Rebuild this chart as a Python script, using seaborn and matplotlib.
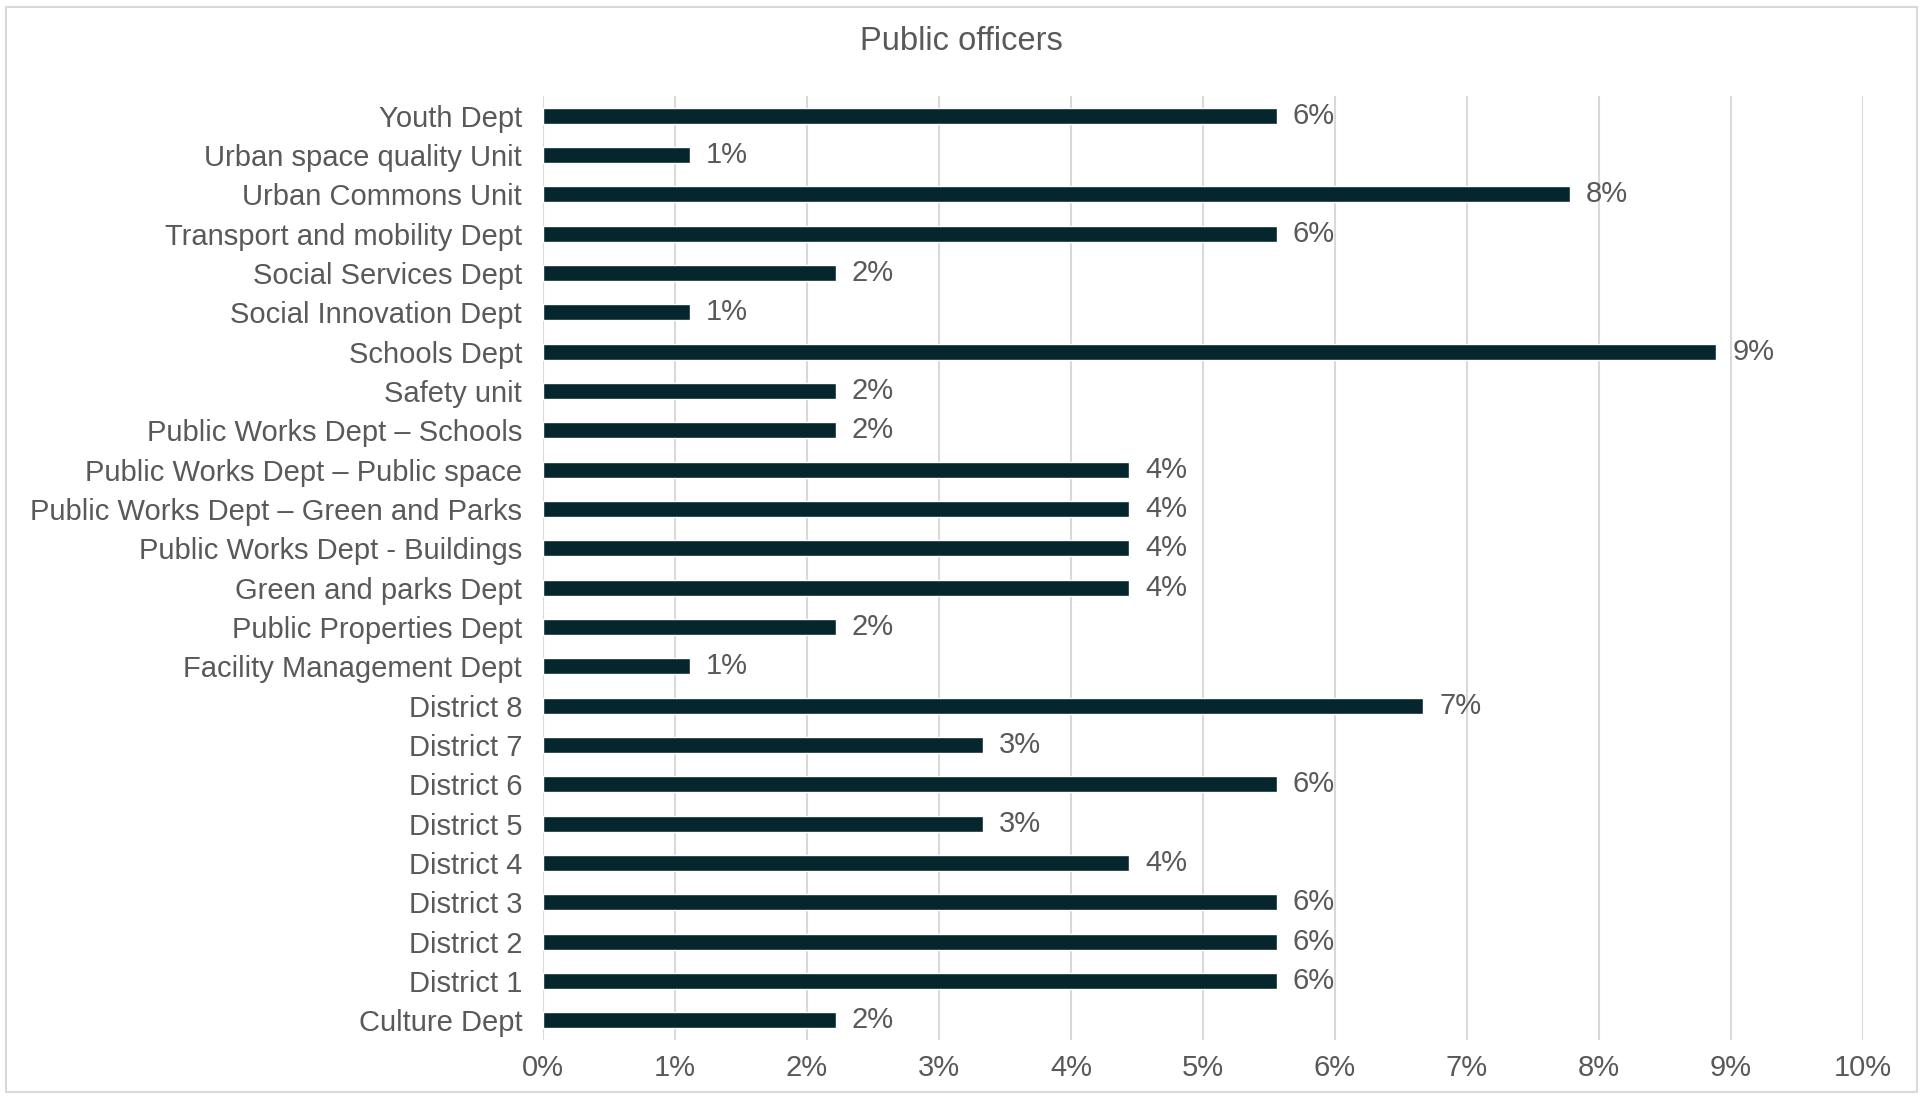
import pandas as pd
import seaborn as sns
import matplotlib.pyplot as plt
from matplotlib.patches import Rectangle
from matplotlib.ticker import FuncFormatter

# departments, top to bottom as in the chart
departments = [
    'Youth Dept', 'Urban space quality Unit', 'Urban Commons Unit',
    'Transport and mobility Dept', 'Social Services Dept', 'Social Innovation Dept',
    'Schools Dept', 'Safety unit', 'Public Works Dept – Schools',
    'Public Works Dept – Public space', 'Public Works Dept – Green and Parks',
    'Public Works Dept - Buildings', 'Green and parks Dept', 'Public Properties Dept',
    'Facility Management Dept', 'District 8', 'District 7', 'District 6',
    'District 5', 'District 4', 'District 3', 'District 2', 'District 1',
    'Culture Dept',
]
# share of public officers (%)
share = [5.56, 1.11, 7.78, 5.56, 2.22, 1.11, 8.89, 2.22, 2.22, 4.44, 4.44, 4.44,
         4.44, 2.22, 1.11, 6.67, 3.33, 5.56, 3.33, 4.44, 5.56, 5.56, 5.56, 2.22]

df = pd.DataFrame({'Dept': departments, 'Share': share})

sns.set_style('white')
plt.rcParams['font.family'] = ['Liberation Sans', 'DejaVu Sans']
text_col = '#595959'

fig = plt.figure(figsize=(19.23, 10.96), dpi=100)
ax = fig.add_axes([0.2824, 0.0511, 0.9688 - 0.2824, 0.9124 - 0.0511])

sns.barplot(data=df, x='Share', y='Dept', color='#06262D', width=0.4,
            saturation=1, ax=ax, zorder=3)

ax.set_xlim(0, 10)
ax.set_xticks(range(0, 11))
ax.xaxis.set_major_formatter(FuncFormatter(lambda v, p: f'{v:.0f}%'))
ax.grid(axis='x', color='#D9D9D9', linewidth=1.5, zorder=0)
ax.grid(axis='y', visible=False)
for s in ax.spines.values():
    s.set_visible(False)
ax.tick_params(axis='both', length=0, labelsize=21, labelcolor=text_col)
ax.tick_params(axis='y', pad=15)
ax.tick_params(axis='x', pad=10)
ax.set_xlabel('')
ax.set_ylabel('')

for i, v in enumerate(share):
    ax.text(v + 0.12, i, f'{v:.0f}%', va='center', ha='left', fontsize=21, color=text_col)

fig.text(0.5, 0.962, 'Public officers', ha='center', va='center', fontsize=23.5, color=text_col)
fig.patches.append(Rectangle((0.003, 0.004), 0.994, 0.99, transform=fig.transFigure,
                             fill=False, edgecolor='#D9D9D9', linewidth=1.5))

fig.savefig('out.png', dpi=100)
